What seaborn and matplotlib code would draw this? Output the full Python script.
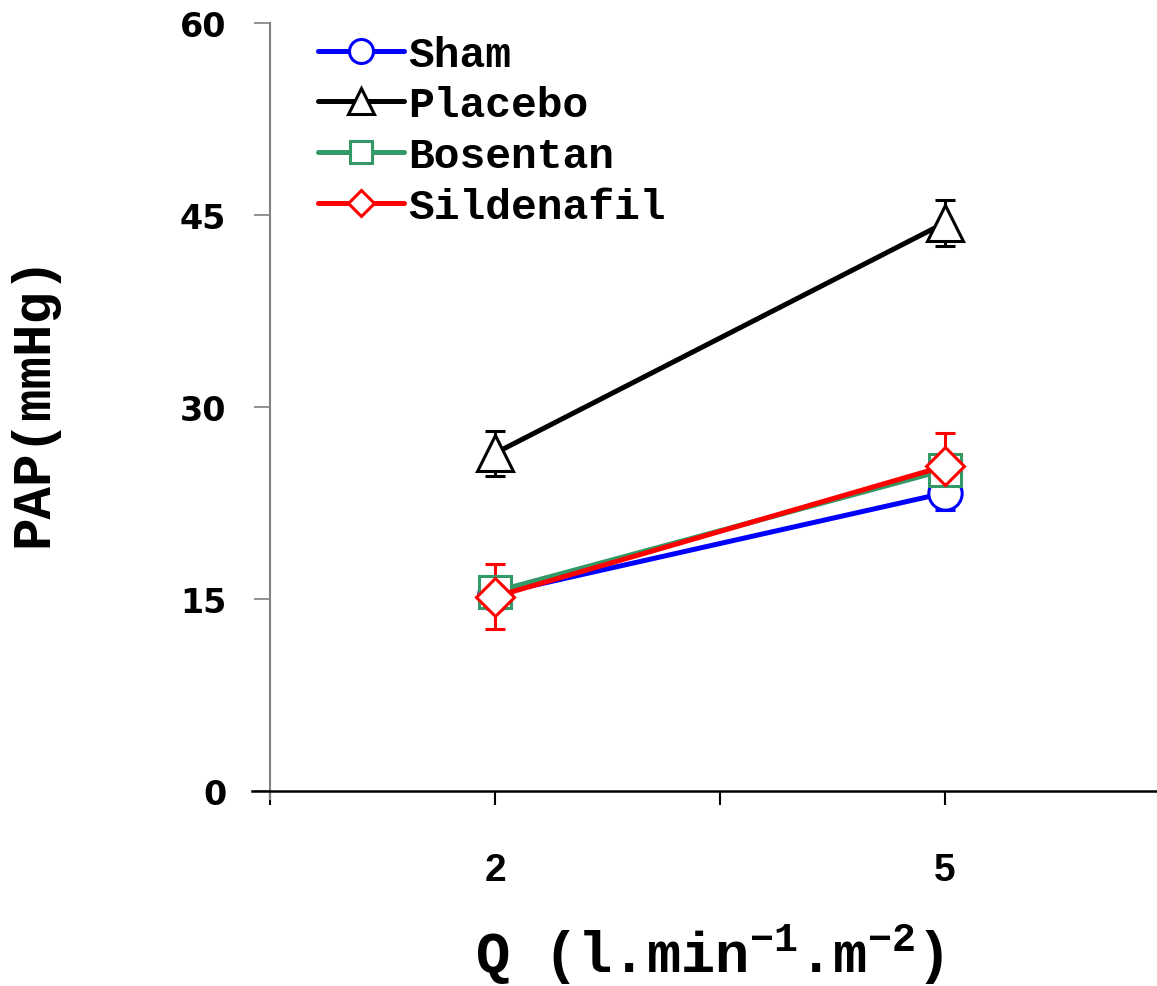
import numpy as np
import matplotlib
matplotlib.use("Agg")
import matplotlib.pyplot as plt
import seaborn as sns

# ---- data ----
q_labels = ["2", "5"]
groups = ["Sham", "Placebo", "Bosentan", "Sildenafil"]
sham = [15.4, 23.3]
placebo = [26.4, 44.4]
bosentan = [15.6, 25.1]
sildenafil = [15.2, 25.4]
sham_err = [1.0, 1.3]
placebo_err = [1.75, 1.8]
bosentan_err = [1.0, 1.0]
sildenafil_err = [2.55, 2.6]
y_ticks = [0, 15, 30, 45, 60]

sns.set_style("ticks")
plt.rcParams["font.family"] = ["Liberation Mono", "DejaVu Sans"]
plt.rcParams["font.weight"] = "bold"
plt.rcParams["text.color"] = "black"
plt.rcParams["axes.labelcolor"] = "black"
plt.rcParams["xtick.color"] = "black"
plt.rcParams["ytick.color"] = "black"
plt.rcParams["mathtext.fontset"] = "custom"
plt.rcParams["mathtext.rm"] = "Liberation Mono:bold"
plt.rcParams["mathtext.bf"] = "Liberation Mono:bold"
plt.rcParams["mathtext.it"] = "Liberation Mono:bold"

fig = plt.figure(figsize=(11.57, 9.87), dpi=100)
ax = fig.add_axes([252 / 1157, 187 / 987, 904.5 / 1157, 776 / 987])

x_pos = np.arange(len(q_labels)) * 2 + 1

series = [
    (sham, sham_err, "#0000FF", "o", 24),
    (placebo, placebo_err, "#000000", "^", 26),
    (bosentan, bosentan_err, "#339966", "s", 23),
    (sildenafil, sildenafil_err, "#FF0000", "D", 19),
]

for name, (vals, errs, col, mk, ms) in zip(groups, series):
    ax.errorbar(x_pos, vals, yerr=errs, fmt="none", ecolor=col,
                elinewidth=2.2, capsize=7.2, capthick=2.2, zorder=2)
    sns.lineplot(x=x_pos, y=vals, ax=ax, color=col, linewidth=3.6,
                 marker=mk, markersize=ms, markerfacecolor="white",
                 markeredgecolor=col, markeredgewidth=2.2, label=name,
                 zorder=3)

ax.set_xlim(-0.08, 3.94)
ax.set_ylim(-0.6, 60)
ax.spines["left"].set_position(("data", 0))
ax.spines["bottom"].set_position(("data", 0))
ax.spines["top"].set_visible(False)
ax.spines["right"].set_visible(False)
ax.spines["left"].set_color("#808080")
ax.spines["left"].set_linewidth(1.5)
ax.spines["bottom"].set_color("black")
ax.spines["bottom"].set_linewidth(1.8)

ax.set_xticks([0, 1, 2, 3])
ax.set_yticks(y_ticks)
ax.tick_params(axis="x", direction="out", length=10, width=1.5, color="black",
               pad=34)
ax.tick_params(axis="y", direction="out", length=11.5, width=1.2, color="#808080",
               pad=20)
ax.set_xticklabels(["", q_labels[0], "", q_labels[1]],
                   fontdict={"family": "Liberation Sans", "weight": "bold",
                             "size": 28})
ax.set_yticklabels([str(v) for v in y_ticks],
                   fontdict={"family": "DejaVu Sans", "weight": "bold",
                             "size": 24})

ax.set_xlabel(r"Q (l.min$^{-1}$.m$^{-2}$)", fontsize=41, fontweight="bold")
ax.xaxis.set_label_coords(0.506, -0.158)
ax.set_ylabel("PAP(mmHg)", fontsize=39, fontweight="bold")
ax.yaxis.set_label_coords(-0.214, 0.515)

leg = ax.legend(loc="upper left", bbox_to_anchor=(0.073, 0.985), frameon=False,
                fontsize=31, markerscale=0.72, handlelength=2.0,
                handletextpad=0.1, labelspacing=0.25, borderpad=0,
                borderaxespad=0)
for t in leg.get_texts():
    t.set_fontweight("bold")

fig.savefig("out.png", dpi=100)
